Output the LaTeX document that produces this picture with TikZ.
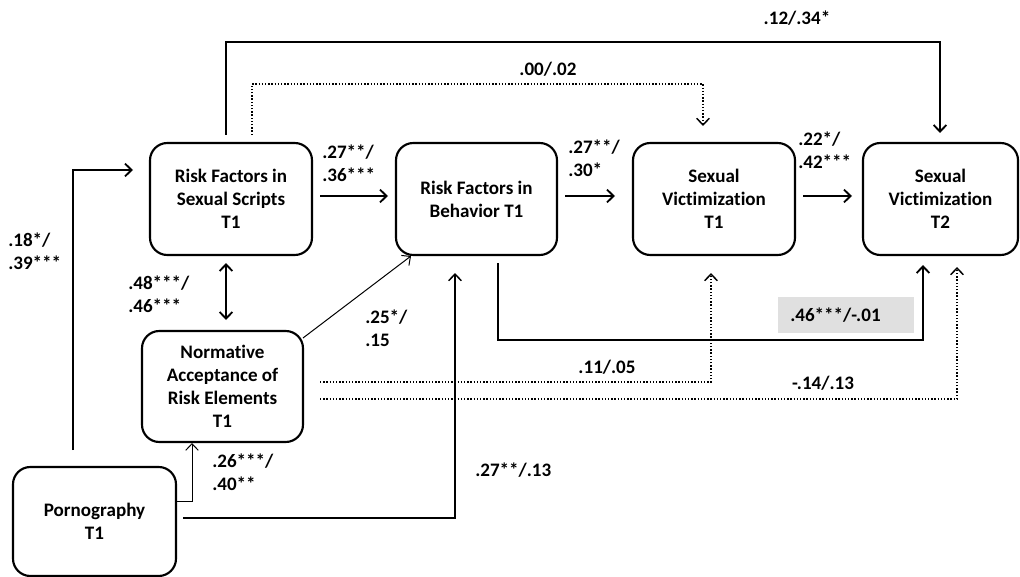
\documentclass[tikz,border=0pt]{standalone}
\usepackage{fontspec}
\setmainfont{Carlito}[Ligatures={NoCommon}]
\usetikzlibrary{arrows.meta}
\definecolor{lbgray}{HTML}{E0E0E0}
\tikzset{
  box/.style={draw, line width=1.6pt, rounded corners=13pt, align=center,
    inner sep=0pt, font=\bfseries\fontsize{14.3}{17.3}\selectfont},
  lbl/.style={anchor=west, align=left, inner sep=0pt,
    font=\bfseries\fontsize{14.3}{17.3}\selectfont},
  clbl/.style={anchor=center, inner sep=0pt,
    font=\bfseries\fontsize{14.3}{17.3}\selectfont},
  tip/.tip={Straight Barb[length=5pt,width=9.5pt]},
  conn/.style={line width=1.4pt, -tip},
  mid/.style={line width=1.1pt, -tip},
  thin/.style={line width=0.75pt, -tip},
  dots/.style={line width=1.1pt, dash pattern=on 1pt off 1.4pt, -tip},
}
\begin{document}
\begin{tikzpicture}[x=0.75pt,y=-0.75pt]
\useasboundingbox (0,0) rectangle (1020,577);

% constructs
\node[box, minimum width=121.5pt, minimum height=84pt] (scripts) at (231,199)
  {Risk Factors in\\Sexual Scripts\\T1};
\node[box, minimum width=120.75pt, minimum height=84pt] (behav) at (476.5,199)
  {Risk Factors in\\Behavior T1};
\node[box, minimum width=121.5pt, minimum height=84pt] (vic1) at (714,199)
  {Sexual\\Victimization\\T1};
\node[box, minimum width=116.25pt, minimum height=84pt] (vic2) at (940.5,199)
  {Sexual\\Victimization\\T2};
\node[box, minimum width=120.75pt, minimum height=83.25pt] (norm) at (222.5,386.5)
  {Normative\\Acceptance of\\Risk Elements\\T1};
\node[box, minimum width=122.25pt, minimum height=81.75pt] (porn) at (94.5,521.5)
  {Pornography\\T1};

% path end points
\coordinate (pornUp) at (73,450);
\coordinate (scriptsIn) at (133,170);
\coordinate (scriptsOut) at (320,196);
\coordinate (behavIn) at (388,196);
\coordinate (behavOut) at (565,196);
\coordinate (vic1In) at (615,196);
\coordinate (vic1Out) at (803,196);
\coordinate (vic2In) at (852,196);
\coordinate (scriptsDown) at (226,263);
\coordinate (normUp) at (226,320);
\coordinate (normCorner) at (303,338);
\coordinate (behavCorner) at (411,256);
\coordinate (pornRightA) at (176,501);
\coordinate (normBottom) at (192,443);
\coordinate (pornRightB) at (183,518);
\coordinate (behavBottom) at (455,273);
\coordinate (behavDown) at (498,263);
\coordinate (behavLow) at (498,340);
\coordinate (vic2Bottom) at (923,265);
\coordinate (normRightA) at (320,382);
\coordinate (vic1Bottom) at (711,273);
\coordinate (normRightB) at (320,399);
\coordinate (vic2BottomB) at (957,267);
\coordinate (scriptsTop) at (226,135);
\coordinate (topRight) at (940,42);
\coordinate (vic2Top) at (940,133);
\coordinate (scriptsTopB) at (252,135);
\coordinate (dotRight) at (703,84);
\coordinate (vic1Top) at (703,126);

% paths
\draw[conn] (pornUp) |- (scriptsIn);
\draw[conn] (scriptsOut) -- (behavIn);
\draw[conn] (behavOut) -- (vic1In);
\draw[conn] (vic1Out) -- (vic2In);
\draw[conn, tip-tip] (scriptsDown) -- (normUp);
\draw[thin] (normCorner) -- (behavCorner);
\draw[thin] (pornRightA) -| (normBottom);
\draw[mid] (pornRightB) -| (behavBottom);
\draw[conn] (behavDown) -- (behavLow) -| (vic2Bottom);
\draw[dots] (normRightA) -| (vic1Bottom);
\draw[dots] (normRightB) -| (vic2BottomB);
\draw[conn] (scriptsTop) |- (topRight) -- (vic2Top);
\draw[dots] (scriptsTopB) |- (dotRight) -- (vic1Top);

% coefficients
\node[clbl] (c1) at (797,18) {.12/.34*};
\node[clbl] (c2) at (548,69) {.00/.02};
\node[lbl] (c3) at (322,163.5) {.27**/\\.36***};
\node[lbl] (c4) at (568,158) {.27**/\\.30*};
\node[lbl] (c5) at (798,150.5) {.22*/\\.42***};
\node[lbl] (c6) at (8,251) {.18*/\\.39***};
\node[lbl] (c7) at (128,294) {.48***/\\.46***};
\node[lbl] (c8) at (365,328.5) {.25*/\\.15};
\node[lbl] (c9) at (212,472.5) {.26***/\\.40**};
\node[lbl] (c10) at (475,470) {.27**/.13};
\node[clbl] (c11) at (607,367) {.11/.05};
\node[clbl] (c12) at (823,383) {-.14/.13};
\node[lbl, fill=lbgray, inner xsep=9pt, minimum height=27pt, text width=84pt]
  (c13) at (778,315) {.46***/-.01};
\end{tikzpicture}
\end{document}
